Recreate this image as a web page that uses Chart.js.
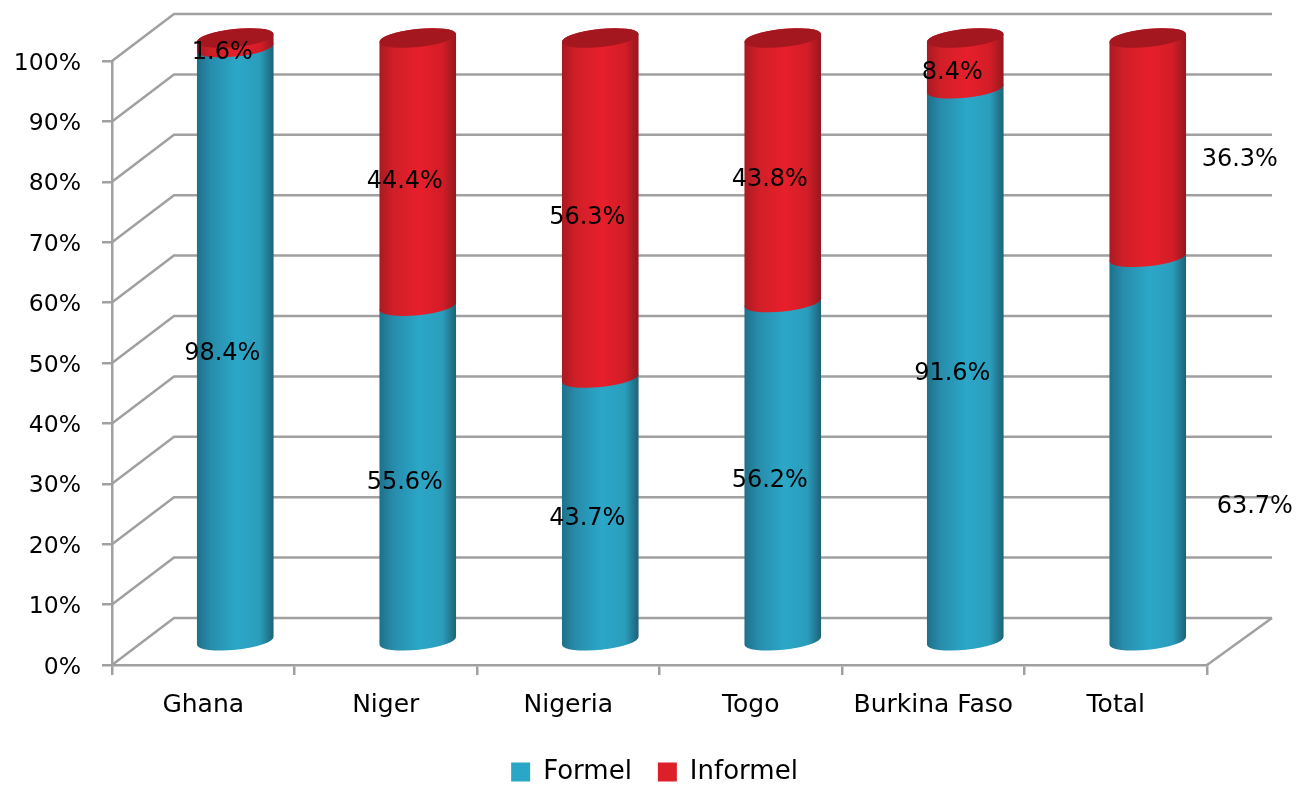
<!DOCTYPE html>
<html>
<head>
<meta charset="utf-8">
<title>Formel / Informel</title>
<script src="https://cdn.jsdelivr.net/npm/chart.js@4"></script>
<style>
  html, body { margin: 0; padding: 0; background: #fff; overflow: hidden; }
  canvas { display: block; }
</style>
</head>
<body>
<canvas id="chart" width="1297" height="785"></canvas>
<script>
var categories = ['Ghana', 'Niger', 'Nigeria', 'Togo', 'Burkina Faso', 'Total'];
var formel = [98.4, 55.6, 43.7, 56.2, 91.6, 63.7];
var informel = [1.6, 44.4, 56.3, 43.8, 8.4, 36.3];

var GREY = '#a0a0a0';
var FONT = '"DejaVu Sans", Verdana, sans-serif';
var DEPTH_X = 62, DEPTH_Y = 47;

// shading for the cylinders, left to right
var shades = [
  ['#1d7089', '#288cab', '#2ba7c8', '#2b9dbc', '#1c6176'],
  ['#a81a21', '#d01f28', '#e71f2b', '#d31d27', '#96171e']
];

function sideGradient(ctx, left, right, colors) {
  var g = ctx.createLinearGradient(left, 0, right, 0);
  g.addColorStop(0, colors[0]);
  g.addColorStop(0.18, colors[1]);
  g.addColorStop(0.52, colors[2]);
  g.addColorStop(0.82, colors[3]);
  g.addColorStop(1, colors[4]);
  return g;
}

// canvas middle baseline sits a bit high for these tick labels
function nudgeLabels(scale, dy) {
  if (scale.nudged) return;
  scale.nudged = true;
  var draw = scale.drawLabels;
  scale.drawLabels = function(area) {
    this.ctx.save();
    this.ctx.translate(0, dy);
    draw.call(this, area);
    this.ctx.restore();
  };
}

// fake 3d walls + cylinders, everything positioned from the chart scales
var fake3d = {
  id: 'fake3d',
  afterLayout: function(chart) {
    chart.legend.left = 12;
    chart.legend.right = 1297;
    chart.legend.top = 733;
  },
  beforeDatasetsDraw: function(chart) {
    var ctx = chart.ctx, y = chart.scales.y, area = chart.chartArea;
    ctx.save();
    ctx.strokeStyle = GREY;
    ctx.lineWidth = 2.5;
    y.ticks.forEach(function(t) {
      var py = y.getPixelForValue(t.value);
      ctx.beginPath();
      ctx.moveTo(area.left, py);
      ctx.lineTo(area.left + DEPTH_X, py - DEPTH_Y);
      ctx.lineTo(area.right + DEPTH_X + 3, py - DEPTH_Y);
      ctx.stroke();
    });
    // right edge of the floor
    ctx.beginPath();
    ctx.moveTo(area.right, area.bottom);
    ctx.lineTo(area.right + DEPTH_X + 3, area.bottom - DEPTH_Y);
    ctx.stroke();
    ctx.restore();
  },
  beforeDatasetDraw: function() {
    return false;
  },
  afterDatasetsDraw: function(chart) {
    var ctx = chart.ctx;
    var dx = 32, dy = -23, b = 9, rot = -6 * Math.PI / 180;
    ctx.save();
    chart.data.datasets.forEach(function(ds, i) {
      chart.getDatasetMeta(i).data.forEach(function(bar) {
        var cx = bar.x + dx, a = bar.width / 2;
        ctx.fillStyle = sideGradient(ctx, cx - a, cx + a, shades[i]);
        ctx.beginPath();
        ctx.ellipse(cx, bar.base + dy, a, b, rot, 0, Math.PI);
        ctx.ellipse(cx, bar.y + dy, a, b, rot, Math.PI, 2 * Math.PI);
        ctx.closePath();
        ctx.fill();
        if (i === chart.data.datasets.length - 1) {
          ctx.fillStyle = '#a5171e';
          ctx.beginPath();
          ctx.ellipse(cx, bar.y + dy, a, b, rot, 0, 2 * Math.PI);
          ctx.fill();
        }
      });
    });
    // value labels
    ctx.fillStyle = '#000';
    ctx.font = '24px ' + FONT;
    ctx.textAlign = 'center';
    ctx.textBaseline = 'middle';
    chart.data.datasets.forEach(function(ds, i) {
      chart.getDatasetMeta(i).data.forEach(function(bar, j) {
        var nudgeX = 19, nudgeY = -13.5;
        if (categories[j] === 'Total') {
          nudgeX = i === 0 ? 139 : 124;
          nudgeY = i === 0 ? 35 : -11;
        }
        ctx.fillText(ds.data[j].toFixed(1) + '%', bar.x + nudgeX, (bar.y + bar.base) / 2 + nudgeY);
      });
    });
    ctx.restore();
  }
};

document.addEventListener('DOMContentLoaded', function() {
  var ctx = document.getElementById('chart').getContext('2d');
  new Chart(ctx, {
    type: 'bar',
    data: {
      labels: categories,
      datasets: [
        { label: 'Formel', data: formel, backgroundColor: '#2aa6c7', categoryPercentage: 1, barPercentage: 0.422 },
        { label: 'Informel', data: informel, backgroundColor: '#dc1f29', categoryPercentage: 1, barPercentage: 0.422 }
      ]
    },
    options: {
      responsive: false,
      animation: false,
      layout: { padding: { left: 0, right: 90, top: 61, bottom: 0 } },
      plugins: {
        tooltip: { enabled: false },
        legend: {
          position: 'bottom',
          labels: {
            font: { family: FONT, size: 26 },
            color: '#000',
            boxWidth: 19,
            boxHeight: 19,
            padding: 26
          }
        }
      },
      scales: {
        x: {
          stacked: true,
          afterFit: function(scale) { scale.height = 120 - scale.chart.legend.height; },
          border: { color: GREY, width: 2.5 },
          grid: { drawOnChartArea: false, color: GREY, lineWidth: 2.5, tickLength: 10 },
          ticks: { color: '#000', font: { family: FONT, size: 25 }, padding: 15, maxRotation: 0, autoSkip: false }
        },
        y: {
          stacked: true,
          min: 0,
          max: 100,
          afterFit: function(scale) { scale.width = 112; nudgeLabels(scale, 2.5); },
          border: { color: GREY, width: 2.5 },
          grid: { drawOnChartArea: false, color: GREY, lineWidth: 2.5, tickLength: 10 },
          ticks: {
            stepSize: 10,
            color: '#000',
            padding: 21,
            font: { family: FONT, size: 23.5 },
            callback: function(value) { return value + '%'; }
          }
        }
      }
    },
    plugins: [fake3d]
  });
});
</script>
</body>
</html>
